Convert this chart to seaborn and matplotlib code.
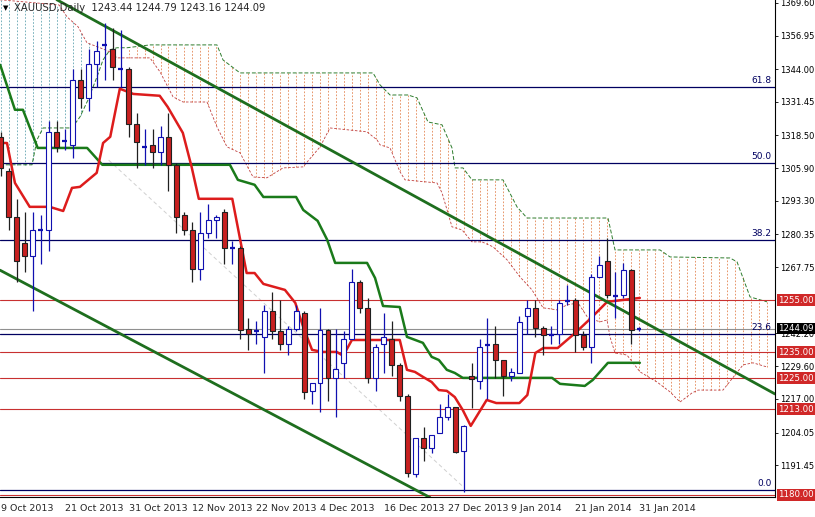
import numpy as np
import pandas as pd
import matplotlib
matplotlib.use("Agg")
import matplotlib.pyplot as plt
import seaborn as sns

sns.set_style("white")
plt.rcParams['font.family'] = ['DejaVu Sans']

# ---- data ----
opens  = [1318,1305,1287,1277,1272,1282,1282,1320,1316,1315,1340,1333,1346,1353,1352,1344,1344,1323,1314,1315,
          1312,1318,1307,1288,1282,1267,1281,1286,1289,1275,1275,1244,1243,1241,1251,1243,1238,1244,1250,1220,
          1223,1243.5,1225,1231,1240,1262,1252,1225,1238,1240,1230,1218,1188,1202,1198,1204,1210,1214,1197,1226,
          1224,1237.5,1238,1232,1226,1227,1249,1252,1244.5,1241.5,1242,1254.5,1255,1241.5,1237,1264,1270,1256.5,1257,1266.5,
          1243.44]
highs  = [1320,1306,1294,1289,1289,1288,1324,1324,1321,1344,1344,1352,1355,1362,1360,1359,1345,1327,1321,1321,
          1322,1327,1308,1289,1285,1289,1292,1288,1290,1278,1276,1248,1247,1253,1258,1255,1245,1253,1251,1223,
          1252,1244,1244,1243,1267,1263,1256,1238,1250,1247,1231,1219,1202,1206,1203,1215,1219,1214,1207,1231,
          1240,1248,1245,1232,1229,1249,1255,1255,1245,1245,1255,1261,1256,1243,1265,1272,1279,1266,1269.5,1267,
          1244.79]
lows   = [1303,1282,1262,1266,1251,1269,1274,1312,1313,1310,1329,1328,1337,1340,1340,1337,1318,1306,1307,1306,
          1307,1297,1281,1280,1262,1263,1279,1279,1269,1269,1240,1236,1238,1227,1240,1236,1234,1243,1217,1215,
          1212,1216,1210,1225,1240,1250,1223,1220,1227,1226,1216,1187,1187,1193,1196,1204,1209,1196,1181,1213.5,
          1221,1217,1225,1218,1224,1227,1242,1241,1234,1238,1238,1253,1235,1236,1231,1264,1256,1248,1256,1238,
          1243.16]
closes = [1306,1287,1270,1272,1282,1282.5,1320,1314,1316.5,1340,1333,1346,1351,1353.5,1345,1344.5,1323,1316,1314.5,1312,
          1318,1307,1287,1282,1267,1281,1286,1287,1275,1275.5,1243.5,1242,1243.5,1251,1243,1238,1244,1251,1219.5,1223,
          1243.5,1225,1228.5,1240,1262,1252,1225,1237,1241,1230,1218,1188.5,1202,1198,1203,1210,1214,1196.5,1206.5,1224.5,
          1237,1237.8,1232,1226,1227.5,1246.5,1252,1244.5,1241.5,1241.8,1254,1254.8,1241.5,1237,1264,1268.5,1257,1256.8,1266.5,1243.5,
          1244.09]

tenkan_idx = [0,0.75,1.75,3.6,6.1,7.8,8.9,9.9,12.0,12.8,13.7,14.9,16.6,19.9,20.9,22.8,23.9,24.8,29.0,30.8,31.8,32.9,35.6,
              36.9,37.9,39.0,40.3,42.1,42.9,44.0,50.0,50.9,51.9,52.9,54.0,54.9,55.9,56.9,57.9,58.9,59.9,60.9,62.1,65.0,
              66.0,67.0,68.0,69.8,72.0,74.0,76.0,80.1]
tenkan_val = [1315.6,1315.6,1300.2,1291.0,1291.0,1289.4,1298.3,1298.7,1304.1,1315.6,1318.0,1336.5,1334.5,1333.8,1329.5,
              1319.5,1306.4,1294.1,1294.1,1265.5,1265.5,1261.3,1259.0,1254.0,1244.7,1235.9,1235.1,1235.1,1233.6,1239.7,
              1239.7,1228.2,1227.4,1225.5,1223.5,1220.4,1220.1,1217.7,1212.7,1206.6,1211.6,1216.6,1215.4,1215.4,1218.5,
              1234.7,1236.6,1236.6,1242.4,1248.2,1254.4,1255.9]

kijun_idx = [-0.1,1.75,2.75,4.6,10.8,12.7,28.7,29.7,31.8,32.9,37.0,37.9,39.7,40.9,41.9,45.9,46.9,47.9,50.0,50.9,52.9,
             54.0,54.9,55.9,56.9,57.9,69.1,70.1,73.2,74.2,76.1,80.1]
kijun_val = [1345.7,1328.4,1328.4,1313.7,1313.7,1307.2,1307.2,1301.4,1299.5,1294.8,1294.8,1289.8,1285.6,1278.3,1269.4,
             1269.4,1263.6,1252.8,1252.4,1240.9,1238.6,1233.2,1232.0,1228.2,1227.0,1225.1,1225.1,1222.8,1222.0,1224.3,
             1230.9,1230.9]

spanb_idx = [-0.13,3.89,4.51,5.27,8.90,9.91,10.91,12.04,12.79,13.67,14.55,15.80,18.68,27.08,27.84,29.97,46.65,47.52,
             48.78,51.03,52.16,53.54,55.30,56.55,56.93,57.93,59.06,62.95,64.70,65.96,76.11,76.99,82.63,83.89,91.41,
             92.29,93.92,96.05]
spanb_val = [1307.2,1307.2,1316.8,1321.4,1321.4,1325.7,1332.2,1341.1,1347.6,1351.5,1352.3,1352.3,1353.4,1353.4,1347.6,
             1342.6,1342.6,1338.0,1334.1,1334.1,1333.0,1323.7,1322.6,1313.7,1306.0,1306.0,1301.4,1301.4,1291.0,1286.7,
             1286.7,1274.4,1274.4,1271.7,1271.3,1269.8,1256.3,1254.4]

spana_idx = [-0.13,7.27,8.28,9.66,10.78,12.41,13.67,14.55,18.68,19.94,21.57,22.82,25.83,27.08,28.34,29.97,31.60,33.35,
             35.36,37.87,40.00,41.25,45.89,47.15,47.52,48.78,50.03,50.66,54.67,55.30,56.55,57.81,59.06,60.31,61.69,
             63.45,65.08,66.58,67.96,69.72,70.97,72.35,73.60,75.11,75.99,76.36,76.99,78.49,80.13,82.26,83.89,85.14,
             86.65,87.40,90.53,93.04,94.29,96.05]
spana_val = [1370.8,1368.8,1364.2,1360.4,1354.2,1352.3,1350.7,1348.4,1348.4,1343.0,1333.4,1331.4,1331.4,1321.8,1314.1,
             1311.8,1302.5,1302.2,1306.0,1306.4,1314.1,1321.4,1319.9,1316.8,1314.9,1313.7,1304.5,1301.4,1300.2,1296.4,
             1283.3,1282.1,1277.5,1277.5,1275.6,1270.6,1264.0,1259.0,1252.1,1251.3,1253.2,1254.0,1248.2,1246.7,1247.4,
             1240.9,1234.7,1233.9,1227.4,1223.5,1219.7,1215.8,1219.3,1220.4,1220.4,1230.1,1230.9,1229.3]

trend_upper = ([7.0, 97.05], [1370.8, 1218.9])
trend_lower = ([-0.13, 53.8], [1266.6, 1179.0])
fib_levels = [61.8, 50.0, 38.2, 23.6, 0.0]
fib_prices = [1337.2, 1308.0, 1278.3, 1242.0, 1182.0]
sr_levels = [1255.00, 1235.00, 1225.00, 1213.00, 1180.00]
last_price = 1244.09
yticks = [1369.60,1356.95,1344.00,1331.45,1318.50,1305.90,1293.30,1280.35,1267.75,1242.20,1229.60,1217.00,1204.05,1191.45]
date_idx = [0,8,16,24,32,40,48,56,64,72,80]
date_labels = ["9 Oct 2013","21 Oct 2013","31 Oct 2013","12 Nov 2013","22 Nov 2013","4 Dec 2013",
               "16 Dec 2013","27 Dec 2013","9 Jan 2014","21 Jan 2014","31 Jan 2014"]

# ---- figure ----
fig = plt.figure(figsize=(8.15, 5.17), dpi=100)
ax = fig.add_axes([0, 20/517, 775/815, 497/517])
xmin, xmax = -0.125, 97.05
ymin, ymax = 1179.2, 1370.7
ax.set_xlim(xmin, xmax); ax.set_ylim(ymin, ymax)

# cloud
grid = np.arange(0, 97)
a = np.interp(grid, spana_idx, spana_val)
b = np.interp(grid, spanb_idx, spanb_val)
for g, av, bv in zip(grid, a, b):
    col = "#4f9aa8" if av > bv else "#e07840"
    ax.vlines(g, min(av, bv), max(av, bv), colors=col, linestyles=(0, (2, 2)), linewidth=0.6, alpha=0.9, zorder=1)
sns.lineplot(x=spana_idx, y=spana_val, sort=False, estimator=None, color="#c04040", linewidth=0.6,
             linestyle=(0, (3, 2)), ax=ax, zorder=2)
sns.lineplot(x=spanb_idx, y=spanb_val, sort=False, estimator=None, color="#2e7d2e", linewidth=0.7,
             linestyle=(0, (4, 2)), ax=ax, zorder=2)

# horizontal levels
for p in fib_prices:
    ax.axhline(p, color="#000060", linewidth=0.9, zorder=2)
for lv, p in zip(fib_levels, fib_prices):
    ax.text(96.6, p + 0.8, f"{lv:.1f}", color="#000060", fontsize=6.5, ha="right", va="bottom", zorder=6)
for p in sr_levels:
    ax.axhline(p, color="#c83030", linewidth=0.8, zorder=2)
ax.axhline(last_price, color="#909090", linewidth=0.8, zorder=2)

# faint dashed diagonal
ax.plot([13.5, 58.0], [1309, 1183], color="#d0d0d0", linestyle=(0, (4, 3)), linewidth=0.7, zorder=1)

# trend lines
ax.plot(*trend_upper, color="#1e6e1e", linewidth=2.0, zorder=4)
ax.plot(*trend_lower, color="#1e6e1e", linewidth=2.0, zorder=4)

# kijun / tenkan
sns.lineplot(x=kijun_idx, y=kijun_val, sort=False, estimator=None, color="#1a7a1a", linewidth=1.8, ax=ax, zorder=3)
sns.lineplot(x=tenkan_idx, y=tenkan_val, sort=False, estimator=None, color="#dd1c1c", linewidth=1.8, ax=ax, zorder=3)

# candles
df = pd.DataFrame({"o": opens, "h": highs, "l": lows, "c": closes})
w = 0.62
for i, r in df.iterrows():
    bull = r.c >= r.o
    lc = "#1010b0" if bull else "#202020"
    ax.vlines(i, r.l, r.h, colors=lc, linewidth=0.9, zorder=5)
    lo, hi = min(r.o, r.c), max(r.o, r.c)
    if hi - lo < 0.9:
        ax.hlines((lo + hi) / 2, i - w / 2, i + w / 2, colors=lc, linewidth=1.6, zorder=6)
    else:
        ax.add_patch(plt.Rectangle((i - w / 2, lo), w, hi - lo, facecolor=("white" if bull else "#c82020"),
                                   edgecolor=lc, linewidth=0.8, zorder=6))

# axes cosmetics
for s in ["top", "left"]:
    ax.spines[s].set_visible(False)
ax.spines["right"].set_color("black"); ax.spines["bottom"].set_color("black")
ax.spines["right"].set_linewidth(0.8); ax.spines["bottom"].set_linewidth(0.8)
ax.yaxis.tick_right()
ax.set_yticks(yticks)
ax.set_yticklabels([f"{t:.2f}" for t in yticks], fontsize=6.0)
ax.tick_params(axis="y", length=2, width=0.6, pad=1.5, colors="black")
ax.set_xticks(date_idx)
ax.set_xticklabels(date_labels, fontsize=6.8, ha="left")
ax.tick_params(axis="x", length=3, width=0.6, pad=2)

# price boxes
def box(p, txt, fc):
    ax.text(1.004, (p - ymin) / (ymax - ymin), txt, transform=ax.transAxes, fontsize=6.2, color="white",
            ha="left", va="center", zorder=10, clip_on=False,
            bbox=dict(boxstyle="square,pad=0.15", facecolor=fc, edgecolor="none"))
for p in sr_levels:
    box(p, f"{p:.2f}", "#d02828")
box(last_price, f"{last_price:.2f}", "black")

fig.text(0.004, 1 - 8/517, "\u25BC", fontsize=5, va="center", ha="left", color="black")
fig.text(14/815, 1 - 8/517, "XAUUSD,Daily  1243.44 1244.79 1243.16 1244.09", fontsize=7.2, va="center", ha="left")

fig.savefig("out.png", dpi=100)
